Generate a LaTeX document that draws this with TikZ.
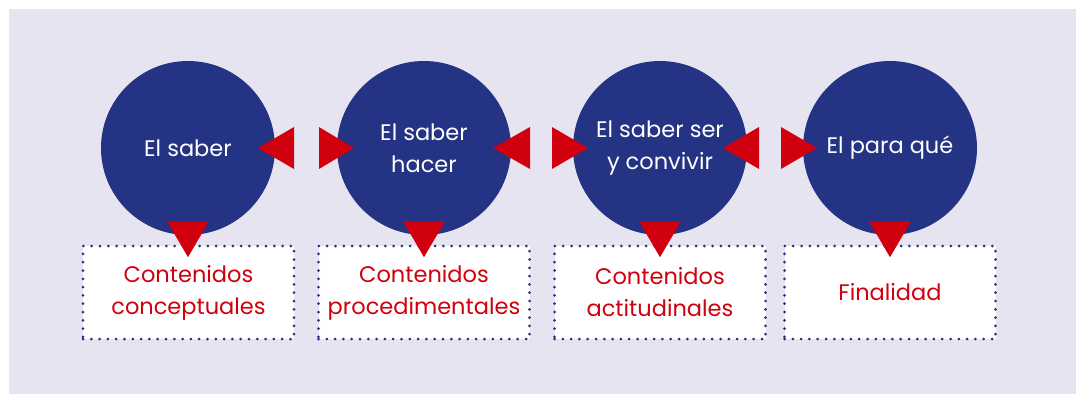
\documentclass[tikz,border=0pt]{standalone}
\usepackage{fontspec}
\setmainfont{Poppins}
\usetikzlibrary{calc}
\definecolor{navy}{HTML}{243383}
\definecolor{redc}{HTML}{D0000F}
\definecolor{lav}{HTML}{E6E4F1}
\begin{document}
\begin{tikzpicture}[x=1pt,y=-1pt,
  circ/.style={circle, fill=navy, minimum size=174pt, inner sep=0pt, text=white,
    font=\fontsize{22.5}{32}\selectfont, align=center},
  box/.style={rectangle, fill=white, draw=navy, line width=3pt,
    dash pattern=on 0pt off 8.3pt, line cap=round, minimum width=211pt,
    minimum height=93pt, inner sep=0pt, text=redc,
    font=\fontsize{22.5}{32}\selectfont, align=center},
  tri/.style={fill=redc}]
\useasboundingbox (0,0) rectangle (1076,394);
\fill[lav] (9,9) rectangle (1076,394);
% circles
\node[circ] (c1) at (188,148) {El saber};
\node[circ] (c2) at (424,148) {El saber\\hacer};
\node[circ] (c3) at (660,148) {El saber ser\\y convivir};
\node[circ] (c4) at (890,148) {El para qué};
% boxes
\node[box] (b1) at (188.5,292.5) {Contenidos\\conceptuales};
\node[box] (b2) at (424,292.5) {Contenidos\\procedimentales};
\node[box] (b3) at (660,292.5) {Contenidos\\actitudinales};
\node[box] (b4) at (890,292.5) {Finalidad};
% horizontal triangles
\fill[tri] (258,148) -- (294,127) -- (294,169) -- cycle;
\fill[tri] (319,127) -- (354,148) -- (319,169) -- cycle;
\fill[tri] (493,148) -- (530,127) -- (530,169) -- cycle;
\fill[tri] (552,127) -- (588,148) -- (552,169) -- cycle;
\fill[tri] (723,148) -- (759,127) -- (759,169) -- cycle;
\fill[tri] (781,127) -- (817,148) -- (781,169) -- cycle;
% downward triangles
\foreach \c in {c1,c2,c3,c4}{
  \fill[tri] ($(\c.south)+(-21,-14)$) -- ($(\c.south)+(21,-14)$) -- ($(\c.south)+(0,22)$) -- cycle;
}
\end{tikzpicture}
\end{document}
